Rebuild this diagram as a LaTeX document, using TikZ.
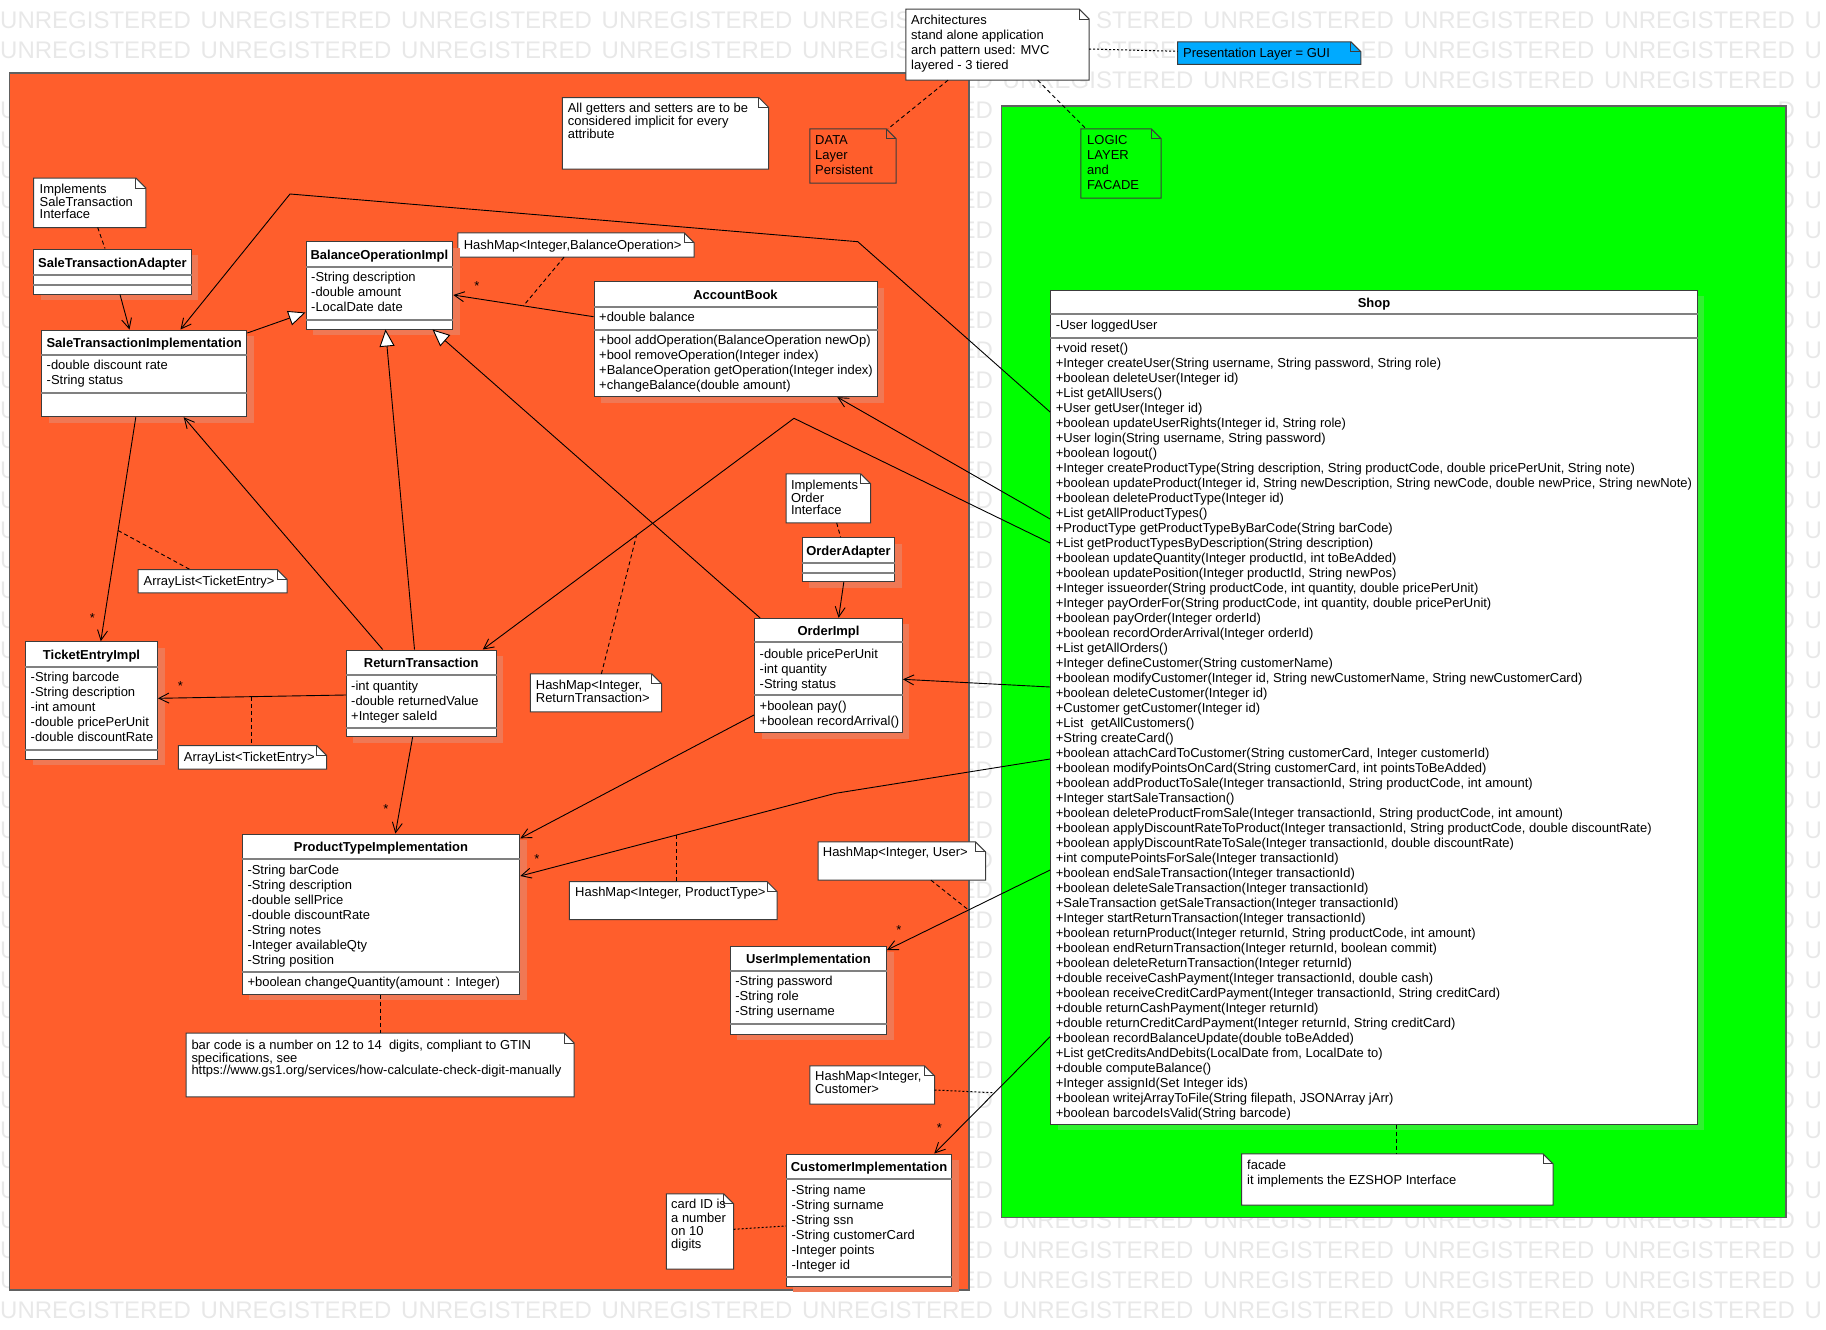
\documentclass[tikz,border=0pt]{standalone}
\usepackage{fontspec}
\setmainfont{Liberation Sans}
\usetikzlibrary{arrows.meta,fit,shadows}

\definecolor{datalayer}{RGB}{255,94,44}
\definecolor{datashade}{RGB}{240,120,84}
\definecolor{logiclayer}{RGB}{0,255,0}
\definecolor{logicshade}{RGB}{48,240,48}
\definecolor{guilayer}{RGB}{0,170,255}
\definecolor{boxline}{RGB}{60,60,60}
\definecolor{divline}{RGB}{128,128,128}
\definecolor{framegray}{RGB}{96,96,96}
\definecolor{wmgray}{RGB}{232,232,232}

\newcommand{\umlfont}{\fontsize{12.97}{15}\selectfont}
\newcommand{\notefont}{\fontsize{12.97}{12.8}\selectfont}
\newcommand{\hstrut}{\rule{0pt}{10.5pt}}

% note with folded corner: [fill]{name}{(x1,y1)}{(x2,y2)}
\newcommand{\umlnote}[4][white]{%
  \node[notearea, fit={#3 #4}] (#2) {};
  \filldraw[noteline, fill=#1] (#2.north west) -- ([xshift=-10pt]#2.north east)
    -- ([yshift=-10pt]#2.north east) -- (#2.south east) -- (#2.south west) -- cycle;
  \draw[noteline] ([xshift=-10pt]#2.north east) |- ([yshift=-10pt]#2.north east);
}

\begin{document}
\begin{tikzpicture}[x=1pt, y=-1pt,
    classbox/.style={draw=boxline, line width=1pt, fill=white, inner sep=0pt,
      general shadow={fill=#1, shadow xshift=7pt, shadow yshift=-6pt}},
    classbox/.default=datashade,
    classname/.style={font=\umlfont\bfseries, anchor=base, inner sep=0pt},
    members/.style={font=\umlfont, anchor=north west, inner sep=0pt, align=left},
    divider/.style={draw=divline, line width=2pt},
    notearea/.style={inner sep=0pt, draw=none},
    noteline/.style={draw=boxline, line width=1pt},
    notetext/.style={font=\notefont, anchor=north west, inner sep=0pt, align=left},
    notewide/.style={notetext, font=\umlfont},
    layerframe/.style={draw=framegray, line width=1.3pt, inner sep=0pt},
    mult/.style={font=\umlfont, inner sep=0pt},
    assoc/.style={draw=black, line width=0.9pt, -{Straight Barb[length=10pt,width=10pt]}},
    generalization/.style={draw=black, line width=0.9pt, -{Triangle[fill=white,length=17pt,width=15pt]}},
    notelink/.style={draw=black, line width=0.9pt, dash pattern=on 4pt off 3pt},
    dotlink/.style={draw=black, line width=1pt, dash pattern=on 2pt off 2pt},
    watermark/.style={font=\fontsize{24}{24}\selectfont, text=wmgray, anchor=west, inner sep=0pt}]
\useasboundingbox (0,0) rectangle (1826,1330);

% watermark, only where it shows
\foreach \col in {0,1,2,3,6,7,8}
  \node[watermark] (wm-0-\col) at (\col*200.5, 20.7) {UNREGISTERED};
\foreach \col in {0,1,2,3,7,8}
  \node[watermark] (wm-1-\col) at (\col*200.5, 50.7) {UNREGISTERED};
\foreach \row in {0,1} {
  \node[watermark] (wm-\row-a) at (802, 20.7+\row*30) {UNREGIS};
  \node[watermark] (wm-\row-b) at (1095.8, 20.7+\row*30) {STERED};
}
\node[watermark] (wm-1-c) at (1360.3, 50.7) {ED};
\foreach \row in {2,40,41,42}
  \foreach \col in {5,...,8}
    \node[watermark] (wm-\row-\col) at (\col*200.5, 20.7+\row*30) {UNREGISTERED};
\foreach \col in {0,...,8}
  \node[watermark] (wm-43-\col) at (\col*200.5, 1310.7) {UNREGISTERED};
\foreach \row in {2,...,42}
  \node[watermark] (wm-\row-gap) at (959.3, 20.7+\row*30) {ED};
\foreach \row in {3,...,42}
  \node[watermark] (wm-\row-left) at (0, 20.7+\row*30) {U};
\foreach \row in {3,...,39}
  \node[watermark] (wm-\row-right) at (1777.4, 20.7+\row*30) {D};
\foreach \row in {0,...,43}
  \node[watermark] (wm-\row-edge) at (1804.5, 20.7+\row*30) {U};

% layers
\node[layerframe, fill=datalayer, fit={(9.6,73) (969,1290)}] (datapkg) {};
\node[layerframe, fill=logiclayer, fit={(1001.6,106) (1786,1217.5)}] (logicpkg) {};

% notes
\umlnote{narch}{(906,9.3)}{(1089,80)}
\node[notewide] (narch-txt) at (911,14.2) {\hstrut Architectures\\stand alone application\\arch pattern used: MVC\\layered - 3 tiered};
\umlnote[guilayer]{ngui}{(1177.7,42)}{(1360.7,64.3)}
\node[notetext] (ngui-txt) at (1183,46.8) {\hstrut Presentation Layer = GUI};
\umlnote[logiclayer]{nlogic}{(1081,129)}{(1161,198)}
\node[notewide] (nlogic-txt) at (1087,134.2) {\hstrut LOGIC\\LAYER\\and\\FACADE};
\umlnote[datalayer]{ndata}{(810,129)}{(896,183)}
\node[notewide] (ndata-txt) at (815,134.2) {\hstrut DATA\\Layer\\Persistent};
\umlnote{ngetters}{(562.5,97.7)}{(768.5,169)}
\node[notetext] (ngetters-txt) at (567.6,102.2) {\hstrut All getters and setters are to be\\considered implicit for every\\attribute};
\umlnote{nsta}{(33.7,178.3)}{(145.7,227.3)}
\node[notetext] (nsta-txt) at (39.5,182.5) {\hstrut Implements\\SaleTransaction\\Interface};
\umlnote{nboi}{(458,233)}{(694,257)}
\node[notetext] (nboi-txt) at (463.6,238.5) {\hstrut HashMap<Integer,BalanceOperation>};
\umlnote{nal1}{(138.4,569.7)}{(287,592.7)}
\node[notetext] (nal1-txt) at (143.5,574.5) {\hstrut ArrayList<TicketEntry>};
\umlnote{nal2}{(178.6,745.7)}{(326.5,769)}
\node[notetext] (nal2-txt) at (183.7,750.5) {\hstrut ArrayList<TicketEntry>};
\umlnote{nrt}{(530.6,674)}{(661.4,711.7)}
\node[notetext] (nrt-txt) at (535.7,678.5) {\hstrut HashMap<Integer,\\ReturnTransaction>};
\umlnote{nord}{(786.4,474)}{(870.5,522.7)}
\node[notetext] (nord-txt) at (790.8,478.5) {\hstrut Implements\\Order\\Interface};
\umlnote{npt}{(569.5,881.7)}{(776.8,919.3)}
\node[notetext] (npt-txt) at (575,886.2) {\hstrut HashMap<Integer, ProductType>};
\umlnote{nuser}{(818.2,842)}{(985.3,880)}
\node[notetext] (nuser-txt) at (822.7,846.2) {\hstrut HashMap<Integer, User>};
\umlnote{nbar}{(186.2,1033.3)}{(574,1096.7)}
\node[notetext] (nbar-txt) at (191.3,1038.5) {\hstrut bar code is a number on 12 to 14\ \ digits, compliant to GTIN\\specifications, see\\https://www.gs1.org/services/how-calculate-check-digit-manually};
\umlnote{ncust}{(810,1066)}{(934.3,1104)}
\node[notetext] (ncust-txt) at (815,1070.2) {\hstrut HashMap<Integer,\\Customer>};
\umlnote{ncard}{(666.5,1194)}{(733.4,1269)}
\node[notetext, font=\fontsize{12.97}{13.2}\selectfont] (ncard-txt) at (671,1198.2) {\hstrut card ID is\\a number\\on 10\\digits};
\umlnote{nfac}{(1241.8,1154)}{(1552.8,1205)}
\node[notewide] (nfac-txt) at (1247,1158.5) {\hstrut facade\\it implements the EZSHOP Interface};

% classes
\node[classbox, fit={(33.8,249) (191,294)}] (sta) {};
\node[classname] (sta-name) at (112.4,267.2) {SaleTransactionAdapter};
\draw[divider] (sta.west |- 0,275) -- (sta.east |- 0,275);
\draw[divider] (sta.west |- 0,285) -- (sta.east |- 0,285);

\node[classbox, fit={(41.5,330) (246.8,416.7)}] (sti) {};
\node[classname] (sti-name) at (144.2,347.2) {SaleTransactionImplementation};
\draw[divider] (sti.west |- 0,355) -- (sti.east |- 0,355);
\draw[divider] (sti.west |- 0,393) -- (sti.east |- 0,393);
\node[members] (sti-attr) at (46.5,359.2) {\hstrut -double discount rate\\-String status};

\node[classbox, fit={(306,241.7) (452.8,329)}] (boi) {};
\node[classname] (boi-name) at (379.4,259.5) {BalanceOperationImpl};
\draw[divider] (boi.west |- 0,266.7) -- (boi.east |- 0,266.7);
\draw[divider] (boi.west |- 0,320) -- (boi.east |- 0,320);
\node[members] (boi-attr) at (311,271.2) {\hstrut -String description\\-double amount\\-LocalDate date};

\node[classbox, fit={(594,281.7) (877,396.7)}] (ab) {};
\node[classname] (ab-name) at (735.5,299.2) {AccountBook};
\draw[divider] (ab.west |- 0,306.7) -- (ab.east |- 0,306.7);
\draw[divider] (ab.west |- 0,330) -- (ab.east |- 0,330);
\node[members] (ab-attr) at (599,311.2) {\hstrut +double balance};
\node[members] (ab-ops) at (599,334.2) {\hstrut +bool addOperation(BalanceOperation newOp)\\+bool removeOperation(Integer index)\\+BalanceOperation getOperation(Integer index)\\+changeBalance(double amount)};

\node[classbox, fit={(25.5,641.7) (157.5,759)}] (tei) {};
\node[classname] (tei-name) at (91.5,659.5) {TicketEntryImpl};
\draw[divider] (tei.west |- 0,666.7) -- (tei.east |- 0,666.7);
\draw[divider] (tei.west |- 0,750) -- (tei.east |- 0,750);
\node[members] (tei-attr) at (30.5,671.2) {\hstrut -String barcode\\-String description\\-int amount\\-double pricePerUnit\\-double discountRate};

\node[classbox, fit={(346.3,650) (496,736.7)}] (rt) {};
\node[classname] (rt-name) at (421.2,667.2) {ReturnTransaction};
\draw[divider] (rt.west |- 0,675) -- (rt.east |- 0,675);
\draw[divider] (rt.west |- 0,727.7) -- (rt.east |- 0,727.7);
\node[members] (rt-attr) at (351,679.5) {\hstrut -int quantity\\-double returnedValue\\+Integer saleId};

\node[classbox, fit={(802.3,537.7) (894.8,581.7)}] (oa) {};
\node[classname] (oa-name) at (848.5,555.2) {OrderAdapter};
\draw[divider] (oa.west |- 0,562.7) -- (oa.east |- 0,562.7);
\draw[divider] (oa.west |- 0,572.7) -- (oa.east |- 0,572.7);

\node[classbox, fit={(754.5,618.3) (902.4,732.7)}] (oi) {};
\node[classname] (oi-name) at (828.5,635.2) {OrderImpl};
\draw[divider] (oi.west |- 0,642.3) -- (oi.east |- 0,642.3);
\draw[divider] (oi.west |- 0,695) -- (oi.east |- 0,695);
\node[members] (oi-attr) at (759.5,647.5) {\hstrut -double pricePerUnit\\-int quantity\\-String status};
\node[members] (oi-ops) at (759.5,700.2) {\hstrut +boolean pay()\\+boolean recordArrival()};

\node[classbox, fit={(242.3,834) (519.8,994)}] (pti) {};
\node[classname] (pti-name) at (381,851.2) {ProductTypeImplementation};
\draw[divider] (pti.west |- 0,859) -- (pti.east |- 0,859);
\draw[divider] (pti.west |- 0,972.3) -- (pti.east |- 0,972.3);
\node[members] (pti-attr) at (247.3,863.5) {\hstrut -String barCode\\-String description\\-double sellPrice\\-double discountRate\\-String notes\\-Integer availableQty\\-String position};
\node[members] (pti-ops) at (247.3,976.2) {\hstrut +boolean changeQuantity(amount : Integer)};

\node[classbox, fit={(730.2,946) (886.5,1034)}] (ui) {};
\node[classname] (ui-name) at (808.4,963.2) {UserImplementation};
\draw[divider] (ui.west |- 0,970.7) -- (ui.east |- 0,970.7);
\draw[divider] (ui.west |- 0,1024) -- (ui.east |- 0,1024);
\node[members] (ui-attr) at (735.2,975.2) {\hstrut -String password\\-String role\\-String username};

\node[classbox, fit={(786.4,1154) (951.5,1286)}] (ci) {};
\node[classname] (ci-name) at (869,1171.2) {CustomerImplementation};
\draw[divider] (ci.west |- 0,1179) -- (ci.east |- 0,1179);
\draw[divider] (ci.west |- 0,1276.7) -- (ci.east |- 0,1276.7);
\node[members] (ci-attr) at (791.4,1183.5) {\hstrut -String name\\-String surname\\-String ssn\\-String customerCard\\-Integer points\\-Integer id};

\node[classbox=logicshade, fit={(1050.6,290) (1697.4,1124)}] (shop) {};
\node[classname] (shop-name) at (1374,307.2) {Shop};
\draw[divider] (shop.west |- 0,314.3) -- (shop.east |- 0,314.3);
\draw[divider] (shop.west |- 0,337.7) -- (shop.east |- 0,337.7);
\node[members] (shop-attr) at (1055.6,319.2) {\hstrut -User loggedUser};
\node[members] (shop-ops) at (1055.6,341.8) {\hstrut +void reset()\\
+Integer createUser(String username, String password, String role)\\
+boolean deleteUser(Integer id)\\
+List getAllUsers()\\
+User getUser(Integer id)\\
+boolean updateUserRights(Integer id, String role)\\
+User login(String username, String password)\\
+boolean logout()\\
+Integer createProductType(String description, String productCode, double pricePerUnit, String note)\\
+boolean updateProduct(Integer id, String newDescription, String newCode, double newPrice, String newNote)\\
+boolean deleteProductType(Integer id)\\
+List getAllProductTypes()\\
+ProductType getProductTypeByBarCode(String barCode)\\
+List getProductTypesByDescription(String description)\\
+boolean updateQuantity(Integer productId, int toBeAdded)\\
+boolean updatePosition(Integer productId, String newPos)\\
+Integer issueorder(String productCode, int quantity, double pricePerUnit)\\
+Integer payOrderFor(String productCode, int quantity, double pricePerUnit)\\
+boolean payOrder(Integer orderId)\\
+boolean recordOrderArrival(Integer orderId)\\
+List getAllOrders()\\
+Integer defineCustomer(String customerName)\\
+boolean modifyCustomer(Integer id, String newCustomerName, String newCustomerCard)\\
+boolean deleteCustomer(Integer id)\\
+Customer getCustomer(Integer id)\\
+List\ \ getAllCustomers()\\
+String createCard()\\
+boolean attachCardToCustomer(String customerCard, Integer customerId)\\
+boolean modifyPointsOnCard(String customerCard, int pointsToBeAdded)\\
+boolean addProductToSale(Integer transactionId, String productCode, int amount)\\
+Integer startSaleTransaction()\\
+boolean deleteProductFromSale(Integer transactionId, String productCode, int amount)\\
+boolean applyDiscountRateToProduct(Integer transactionId, String productCode, double discountRate)\\
+boolean applyDiscountRateToSale(Integer transactionId, double discountRate)\\
+int computePointsForSale(Integer transactionId)\\
+boolean endSaleTransaction(Integer transactionId)\\
+boolean deleteSaleTransaction(Integer transactionId)\\
+SaleTransaction getSaleTransaction(Integer transactionId)\\
+Integer startReturnTransaction(Integer transactionId)\\
+boolean returnProduct(Integer returnId, String productCode, int amount)\\
+boolean endReturnTransaction(Integer returnId, boolean commit)\\
+boolean deleteReturnTransaction(Integer returnId)\\
+double receiveCashPayment(Integer transactionId, double cash)\\
+boolean receiveCreditCardPayment(Integer transactionId, String creditCard)\\
+double returnCashPayment(Integer returnId)\\
+double returnCreditCardPayment(Integer returnId, String creditCard)\\
+boolean recordBalanceUpdate(double toBeAdded)\\
+List getCreditsAndDebits(LocalDate from, LocalDate to)\\
+double computeBalance()\\
+Integer assignId(Set Integer ids)\\
+boolean writejArrayToFile(String filepath, JSONArray jArr)\\
+boolean barcodeIsValid(String barcode)};

% bend points
\coordinate (bendsti) at (857.8,241.7);
\coordinate (bendtop) at (290,194);
\coordinate (bendrt) at (794,418.3);
\coordinate (bendpti) at (835.5,793.3);

% generalizations
\draw[generalization] (sti.east |- 0,333) -- (boi.west |- 0,312.5);
\draw[generalization] (rt.north -| 414.5,0) -- (boi.south -| 385.5,0);
\draw[generalization] (oi.north -| 760,0) -- (boi.south -| 432.5,0);

% associations
\draw[assoc] (sta.south -| 120,0) -- (sti.north -| 129.5,0);
\draw[assoc] (ab.west |- 0,316.7) -- coordinate[pos=0.5] (abboi) (boi.east |- 0,295);
\draw[assoc] (shop.west |- 0,412) -- (bendsti) -- (bendtop) -- (sti.north -| 180.5,0);
\draw[assoc] (shop.west |- 0,519) -- (ab.south -| 837.4,0);
\draw[assoc] (shop.west |- 0,543) -- (bendrt) -- coordinate[pos=0.506] (shoprt) (rt.north -| 482.8,0);
\draw[assoc] (sti.south -| 135.8,0) -- coordinate[pos=0.506] (stitei) (tei.north -| 100.8,0);
\draw[assoc] (rt.north -| 382.7,0) -- (sti.south -| 183.7,0);
\draw[assoc] (rt.west |- 0,695) -- coordinate[pos=0.5] (rttei) (tei.east |- 0,698.3);
\draw[assoc] (rt.south -| 412.6,0) -- (pti.north -| 395.4,0);
\draw[assoc] (oa.south -| 843.8,0) -- (oi.north -| 838.6,0);
\draw[assoc] (shop.west |- 0,687) -- (oi.east |- 0,679.3);
\draw[assoc] (oi.west |- 0,715) -- (pti.east |- 0,838.3);
\draw[assoc] (shop.west |- 0,759) -- (bendpti) -- coordinate[pos=0.505] (shoppti) (pti.east |- 0,876);
\draw[assoc] (shop.west |- 0,870) -- coordinate[pos=0.5] (shopui) (ui.east |- 0,950);
\draw[assoc] (shop.west |- 0,1036.7) -- coordinate[pos=0.48] (shopci) (ci.north -| 934.3,0);

% multiplicities
\node[mult] (m-boi) at (477,286) {*};
\node[mult] (m-tei) at (92.5,618) {*};
\node[mult] (m-rttei) at (180.5,686) {*};
\node[mult] (m-pti) at (385.8,809) {*};
\node[mult] (m-shoppti) at (537,859) {*};
\node[mult] (m-ui) at (899,929.6) {*};
\node[mult] (m-ci) at (939.4,1128) {*};

% note links
\draw[notelink] (nsta.south -| 97.7,0) -- (sta.north -| 105,0);
\draw[notelink] (nboi.south -| 564,0) -- (abboi);
\draw[notelink] (stitei) -- (nal1.north -| 190,0);
\draw[notelink] (rttei) -- (rttei |- nal2.north);
\draw[notelink] (nrt.north -| 601.4,0) -- (shoprt);
\draw[notelink] (nord.south -| 836.7,0) -- (oa.north -| 840.6,0);
\draw[notelink] (shoppti) -- (shoppti |- npt.north);
\draw[notelink] (nuser.south -| 931,0) -- (shopui);
\draw[notelink] (pti.south -| 380,0) -- (nbar.north -| 380,0);
\draw[notelink] (shop.south -| 1396.5,0) -- (nfac.north -| 1396.5,0);
\draw[notelink] (narch.south -| 948,0) -- (ndata.north -| 888,0);
\draw[notelink] (narch.south -| 1037.6,0) -- (nlogic.north -| 1086,0);
\draw[dotlink] (narch.east |- 0,49) -- (ngui.west |- 0,51.3);
\draw[dotlink] (ncust.east |- 0,1090) -- (shopci);
\draw[dotlink] (ncard.east |- 0,1229.3) -- (ci.west |- 0,1226);
\end{tikzpicture}
\end{document}
